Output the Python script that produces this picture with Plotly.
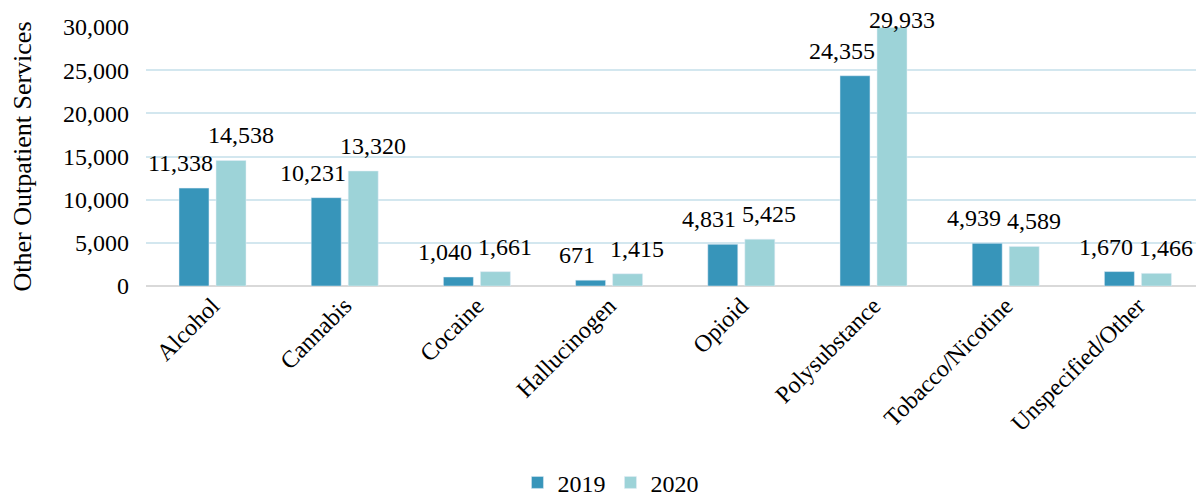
import plotly.graph_objects as go

# data
categories = ["Alcohol", "Cannabis", "Cocaine", "Hallucinogen", "Opioid",
              "Polysubstance", "Tobacco/Nicotine", "Unspecified/Other"]
values_2019 = [11338, 10231, 1040, 671, 4831, 24355, 4939, 1670]
values_2020 = [14538, 13320, 1661, 1415, 5425, 29933, 4589, 1466]

font_name = "Liberation Serif"
y_max = 30000

fig = go.Figure()
fig.add_trace(go.Bar(x=categories, y=values_2019, name="2019",
                     marker=dict(color="#3795BA")))
fig.add_trace(go.Bar(x=categories, y=values_2020, name="2020",
                     marker=dict(color="#9DD3D8")))

# value labels: placed as annotations so they can sit a bit off the bar
# centres like in the original; labels near the top are pulled down
# so they stay inside the chart
for vals, shift in [(values_2019, -32), (values_2020, 28)]:
    for c, v in zip(categories, vals):
        ys = 10 if v < 0.95 * y_max else -7
        fig.add_annotation(x=c, y=v, text=f"{v:,}", showarrow=False,
                           xanchor="center", yanchor="bottom",
                           xshift=shift, yshift=ys,
                           font=dict(family=font_name, size=24, color="#000000"))

# page body has an 8px margin, so the figure is made 8px smaller
fig.update_layout(
    width=1196, height=490,
    barmode="group", bargap=0.44, bargroupgap=0.19,
    plot_bgcolor="white", paper_bgcolor="white",
    margin=dict(l=138, r=0, t=19, b=212),
    font=dict(family=font_name, size=24, color="#000000"),
    legend=dict(orientation="h", x=0.439, xanchor="center",
                yref="container", y=0.031, yanchor="middle",
                font=dict(family=font_name, size=24)),
    xaxis=dict(tickangle=-45, showline=False, ticks="", automargin=False,
               tickfont=dict(family=font_name, size=24)),
    yaxis=dict(range=[0, y_max], dtick=5000, tickformat=",", automargin=False,
               showgrid=True, gridcolor="#D3E7EF", gridwidth=2,
               zeroline=True, zerolinecolor="#D9D9D9", zerolinewidth=2,
               ticklabelstandoff=16,
               tickfont=dict(family=font_name, size=24),
               title=dict(text="Other Outpatient Services", standoff=25,
                          font=dict(family=font_name, size=26))),
)

fig.write_html("out.html")
